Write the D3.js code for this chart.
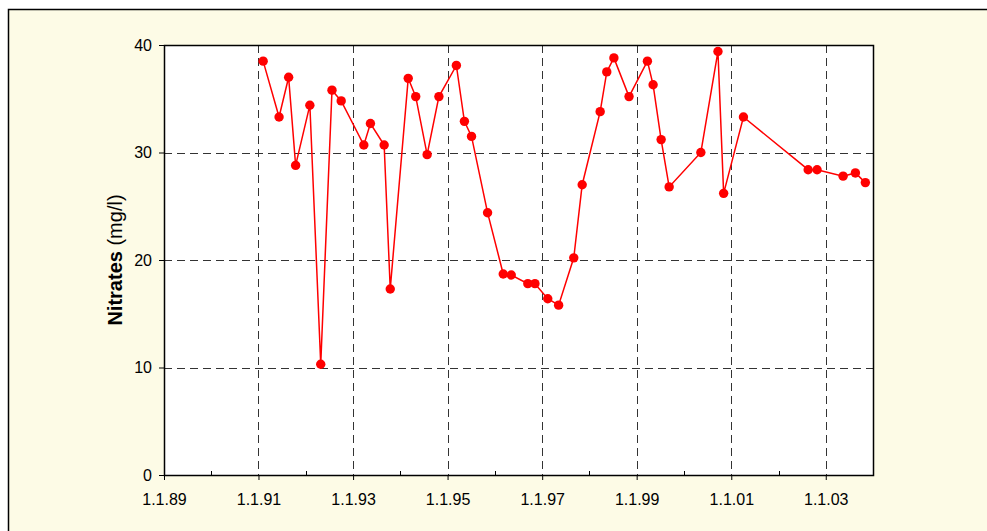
<!DOCTYPE html>
<html lang="en">
<head>
    <meta charset="UTF-8">
    <title>Nitrates</title>
    <script src="https://d3js.org/d3.v7.min.js"></script>
    <style>
        body { margin: 0; background: #ffffff; }
        svg { display: block; font-family: "Liberation Sans", Arial, sans-serif; }
    </style>
</head>
<body>
    <svg width="987" height="531"></svg>

    <script>
        // sampling dates and nitrate values (mg/l)
        const dates = [
            "1991-02-06", "1991-06-09", "1991-08-22", "1991-10-15", "1992-02-02",
            "1992-04-26", "1992-07-22", "1992-10-01", "1993-03-25", "1993-05-15",
            "1993-08-29", "1993-10-15", "1994-03-03", "1994-04-30", "1994-07-27",
            "1994-10-26", "1995-03-10", "1995-05-11", "1995-07-05", "1995-11-06",
            "1996-03-06", "1996-05-07", "1996-09-12", "1996-11-06", "1997-02-13",
            "1997-05-08", "1997-09-02", "1997-11-06", "1998-03-25", "1998-05-15",
            "1998-07-09", "1998-11-03", "1999-03-25", "1999-05-08", "1999-07-09",
            "1999-09-09", "2000-05-11", "2000-09-20", "2000-11-03", "2001-04-05",
            "2002-08-18", "2002-10-26", "2003-05-15", "2003-08-18", "2003-11-03"
        ];
        const nitrates = [
            38.5, 33.3, 37.0, 28.8, 34.4,
            10.3, 35.8, 34.8, 30.7, 32.7,
            30.7, 17.3, 36.9, 35.2, 29.8,
            35.2, 38.1, 32.9, 31.5, 24.4,
            18.7, 18.6, 17.8, 17.8, 16.4,
            15.8, 20.2, 27.0, 33.8, 37.5,
            38.8, 35.2, 38.5, 36.3, 31.2,
            26.8, 30.0, 39.4, 26.2, 33.3,
            28.4, 28.4, 27.8, 28.1, 27.2
        ];
        const yTicks = [0, 10, 20, 30, 40];
        const xTickYears = [1989, 1991, 1993, 1995, 1997, 1999, 2001, 2003];

        const width = 987, height = 531;
        const margin = { top: 45, right: 114, bottom: 56, left: 164 };

        const parse = d3.timeParse("%Y-%m-%d");
        const data = dates.map((d, i) => ({ date: parse(d), value: nitrates[i] }));

        const svg = d3.select("svg");

        // outer panel
        svg.append("rect")
           .attr("x", 8.5).attr("y", 9.5)
           .attr("width", width).attr("height", height)
           .attr("fill", "#fdfbe6")
           .attr("stroke", "#000")
           .attr("stroke-width", 1.5);

        const x = d3.scaleTime()
                    .domain([new Date(1989, 0, 1), new Date(2004, 0, 1)])
                    .range([margin.left, width - margin.right]);

        const y = d3.scaleLinear()
                    .domain([0, 40])
                    .range([height - margin.bottom, margin.top]);

        // plot area
        svg.append("rect")
           .attr("x", margin.left).attr("y", margin.top)
           .attr("width", width - margin.right - margin.left)
           .attr("height", height - margin.bottom - margin.top)
           .attr("fill", "#fff");

        const majorTicks = xTickYears.map(yr => new Date(yr, 0, 1));
        const minorTicks = d3.range(1990, 2004, 2).map(yr => new Date(yr, 0, 1));

        // grid lines
        svg.append("g")
           .selectAll("line")
           .data(majorTicks.slice(1))
           .join("line")
           .attr("x1", d => Math.round(x(d)) + 0.5)
           .attr("x2", d => Math.round(x(d)) + 0.5)
           .attr("y1", margin.top)
           .attr("y2", height - margin.bottom)
           .attr("stroke", "#333")
           .attr("stroke-dasharray", "8,5");

        svg.append("g")
           .selectAll("line")
           .data(yTicks.slice(1, -1))
           .join("line")
           .attr("x1", margin.left)
           .attr("x2", width - margin.right)
           .attr("y1", d => Math.round(y(d)) + 0.5)
           .attr("y2", d => Math.round(y(d)) + 0.5)
           .attr("stroke", "#333")
           .attr("stroke-dasharray", "8,5");

        // x axis
        const xAxis = svg.append("g")
           .attr("transform", `translate(0,${height - margin.bottom})`)
           .call(d3.axisBottom(x)
                   .tickValues(majorTicks)
                   .tickSize(5)
                   .tickPadding(14)
                   .tickFormat(d => "1.1." + d3.timeFormat("%y")(d)));
        xAxis.select(".domain").remove();
        xAxis.selectAll("text").style("font-size", "16px").attr("fill", "#000");

        svg.append("g")
           .selectAll("line")
           .data(minorTicks)
           .join("line")
           .attr("x1", d => Math.round(x(d)) + 0.5)
           .attr("x2", d => Math.round(x(d)) + 0.5)
           .attr("y1", height - margin.bottom)
           .attr("y2", height - margin.bottom - 4)
           .attr("stroke", "#000");

        // y axis
        const yAxis = svg.append("g")
           .attr("transform", `translate(${margin.left},0)`)
           .call(d3.axisLeft(y)
                   .tickValues(yTicks)
                   .tickSize(5)
                   .tickPadding(7));
        yAxis.select(".domain").remove();
        yAxis.selectAll("text").style("font-size", "16px").attr("fill", "#000");

        // plot frame
        svg.append("rect")
           .attr("x", margin.left + 0.5).attr("y", margin.top + 0.5)
           .attr("width", width - margin.right - margin.left)
           .attr("height", height - margin.bottom - margin.top)
           .attr("fill", "none")
           .attr("stroke", "#000")
           .attr("stroke-width", 1.5);

        // line + points
        const line = d3.line()
                       .x(d => x(d.date))
                       .y(d => y(d.value));

        svg.append("path")
           .datum(data)
           .attr("fill", "none")
           .attr("stroke", "#ff0000")
           .attr("stroke-width", 1.5)
           .attr("d", line);

        svg.selectAll(".dot")
           .data(data)
           .join("circle")
           .attr("class", "dot")
           .attr("cx", d => x(d.date))
           .attr("cy", d => y(d.value))
           .attr("r", 4.7)
           .attr("fill", "#ff0000");

        // y axis label
        const label = svg.append("text")
           .attr("transform", `translate(122,${(margin.top + height - margin.bottom) / 2}) rotate(-90)`)
           .attr("text-anchor", "middle")
           .style("font-size", "20px");
        label.append("tspan").style("font-weight", "bold").text("Nitrates");
        label.append("tspan").text(" (mg/l)");
    </script>
</body>
</html>
